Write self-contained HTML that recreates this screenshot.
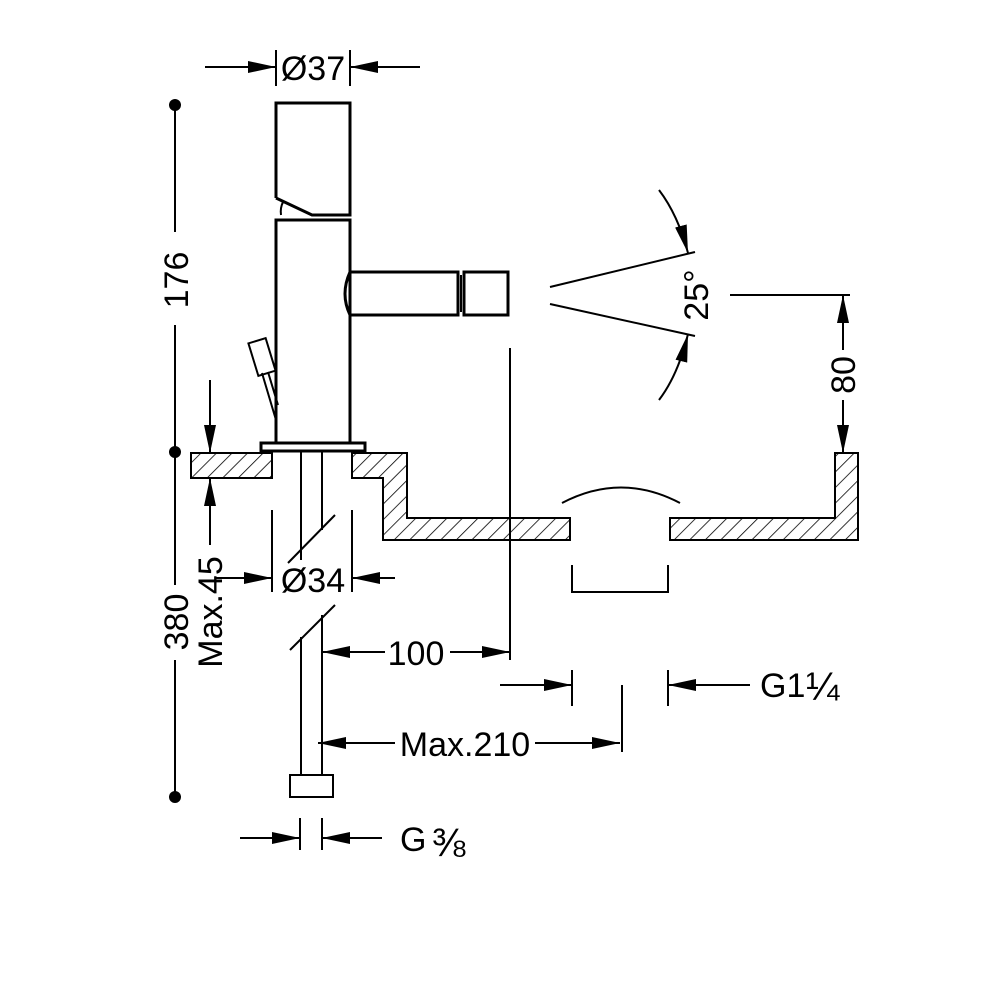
<!DOCTYPE html>
<html><head><style>html,body{margin:0;padding:0;background:#fff}svg{display:block}</style></head>
<body>
<svg width="1000" height="1000" viewBox="0 0 1000 1000" xmlns="http://www.w3.org/2000/svg">
<defs>
<pattern id="h" patternUnits="userSpaceOnUse" width="11" height="11" patternTransform="rotate(45)">
<line x1="0" y1="0" x2="0" y2="11" stroke="#000" stroke-width="1.6"/>
</pattern>
<marker id="a" viewBox="0 0 28 12" refX="28" refY="6" markerWidth="28" markerHeight="12" markerUnits="userSpaceOnUse" orient="auto"><path d="M0,0 L28,6 L0,12 Z" fill="#000"/></marker>
</defs>
<g fill="none" stroke="#000" stroke-width="2" font-family="Liberation Sans, sans-serif">
<line x1="276" y1="50" x2="276" y2="86"/><line x1="350" y1="50" x2="350" y2="86"/>
<line x1="205" y1="67" x2="276" y2="67" marker-end="url(#a)"/>
<line x1="420" y1="67" x2="350" y2="67" marker-end="url(#a)"/>
<path d="M276,198 L276,103 L350,103 L350,215 L312,215 L276,198" stroke-width="3"/>
<path d="M283,202 Q280,208 281,215"/>
<rect x="276" y="220" width="74" height="223" stroke-width="3"/>
<path d="M350,272 L458,272 L458,315 L350,315 Q340,294 350,272" stroke-width="3"/>
<line x1="461" y1="275" x2="461" y2="312" stroke-width="2"/>
<rect x="464" y="272" width="44" height="43" stroke-width="3"/>
<g transform="rotate(-17 262 357)"><rect x="253" y="340" width="18" height="34" stroke-width="2"/></g>
<line x1="262" y1="373" x2="276" y2="420"/><line x1="268" y1="372" x2="278" y2="405"/>
<rect x="261" y="443" width="104" height="8" stroke-width="3"/>
<rect x="191" y="453" width="81" height="25" fill="url(#h)"/>
<path d="M352,453 L407,453 L407,518 L570,518 L570,540 L383,540 L383,478 L352,478 Z" fill="url(#h)"/>
<path d="M670,518 L835,518 L835,453 L858,453 L858,540 L670,540 Z" fill="url(#h)"/>
<path d="M562,503 Q621,472 680,503"/>
<path d="M572,565 L572,592 L668,592 L668,565"/>
<line x1="301" y1="451" x2="301" y2="560"/><line x1="322" y1="451" x2="322" y2="530"/>
<line x1="288" y1="563" x2="335" y2="515"/>
<line x1="290" y1="650" x2="335" y2="605"/>
<line x1="301" y1="637" x2="301" y2="775"/><line x1="322" y1="615" x2="322" y2="775"/>
<rect x="290" y="775" width="43" height="22"/>
<line x1="272" y1="510" x2="272" y2="592"/><line x1="352" y1="510" x2="352" y2="592"/>
<line x1="215" y1="578" x2="272" y2="578" marker-end="url(#a)"/>
<line x1="395" y1="578" x2="352" y2="578" marker-end="url(#a)"/>
<line x1="210" y1="380" x2="210" y2="453" marker-end="url(#a)"/>
<line x1="210" y1="545" x2="210" y2="478" marker-end="url(#a)"/>
<line x1="175" y1="105" x2="175" y2="232"/><line x1="175" y1="325" x2="175" y2="452"/>
<line x1="175" y1="452" x2="175" y2="585"/><line x1="175" y1="660" x2="175" y2="797"/>
<line x1="510" y1="348" x2="510" y2="660"/>
<line x1="385" y1="652" x2="322" y2="652" marker-end="url(#a)"/>
<line x1="450" y1="652" x2="510" y2="652" marker-end="url(#a)"/>
<line x1="572" y1="670" x2="572" y2="706"/><line x1="668" y1="670" x2="668" y2="706"/>
<line x1="622" y1="685" x2="622" y2="752"/>
<line x1="500" y1="685" x2="572" y2="685" marker-end="url(#a)"/>
<line x1="750" y1="685" x2="668" y2="685" marker-end="url(#a)"/>
<line x1="395" y1="743" x2="318" y2="743" marker-end="url(#a)"/>
<line x1="535" y1="743" x2="620" y2="743" marker-end="url(#a)"/>
<line x1="300" y1="818" x2="300" y2="850"/><line x1="322" y1="818" x2="322" y2="850"/>
<line x1="240" y1="838" x2="300" y2="838" marker-end="url(#a)"/>
<line x1="382" y1="838" x2="322" y2="838" marker-end="url(#a)"/>
<line x1="550" y1="287" x2="695" y2="252"/>
<line x1="550" y1="304" x2="695" y2="336"/>
<path d="M659,190 Q678,215 688,253" marker-end="url(#a)"/>
<path d="M659,400 Q678,375 688,334" marker-end="url(#a)"/>
<line x1="730" y1="295" x2="850" y2="295"/>
<line x1="843" y1="350" x2="843" y2="295" marker-end="url(#a)"/>
<line x1="843" y1="400" x2="843" y2="453" marker-end="url(#a)"/>
</g>
<g fill="#000">
<circle cx="175" cy="105" r="6"/><circle cx="175" cy="452" r="6"/><circle cx="175" cy="797" r="6"/>
</g>
<g font-family="Liberation Sans, sans-serif" font-size="34" fill="#000">
<text x="313" y="80" text-anchor="middle">Ø37</text>
<text x="313" y="592" text-anchor="middle">Ø34</text>
<text x="416" y="665" text-anchor="middle">100</text>
<text x="465" y="756" text-anchor="middle">Max.210</text>
<text x="760" y="697">G1</text>
<text x="806" y="700" font-size="40">¼</text>
<text x="400" y="851">G</text>
<text x="432" y="856" font-size="40">⅜</text>
<text transform="translate(188,280) rotate(-90)" text-anchor="middle">176</text>
<text transform="translate(188,622) rotate(-90)" text-anchor="middle">380</text>
<text transform="translate(222,612) rotate(-90)" text-anchor="middle">Max.45</text>
<text transform="translate(708,295) rotate(-90)" text-anchor="middle">25°</text>
<text transform="translate(855,375) rotate(-90)" text-anchor="middle">80</text>
</g>
</svg>
</body></html>
